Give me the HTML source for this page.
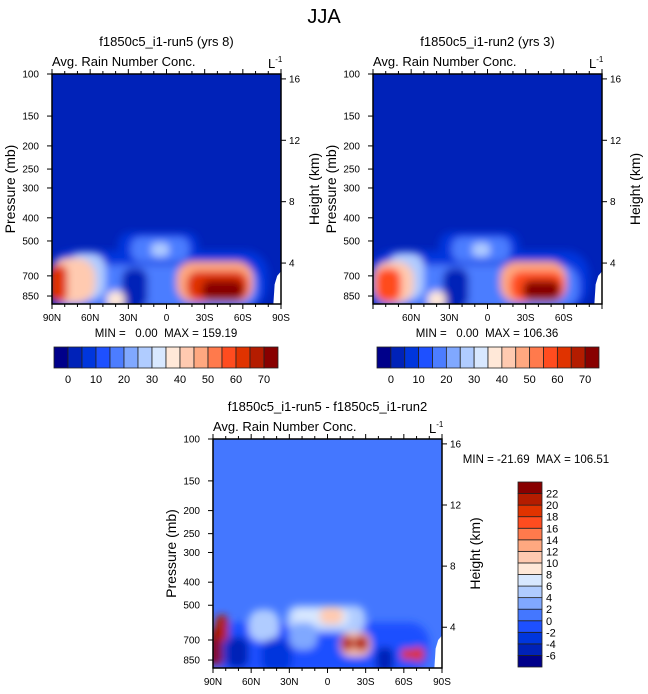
<!DOCTYPE html>
<html><head><meta charset="utf-8">
<style>
html,body{margin:0;padding:0;background:#fff;width:648px;height:694px;overflow:hidden;font-family:"Liberation Sans",sans-serif;}
svg text{font-family:"Liberation Sans",sans-serif;fill:#000;white-space:pre;}
</style></head>
<body>
<svg id="fig" width="648" height="694" viewBox="0 0 648 694" xmlns="http://www.w3.org/2000/svg">
<defs>
<filter id="blur" x="-50%" y="-50%" width="200%" height="200%"><feGaussianBlur stdDeviation="4"/></filter>
</defs>
<text x="324" y="23" font-size="20" text-anchor="middle">JJA</text>
</svg>
<script>
// ---- data ----
const absColors=["#00008a","#0022b8","#0036dd","#1e50ff","#4c7dff","#80a8ff","#b0ccff","#d8e8ff","#ffe8d8","#ffcab0","#ffa880","#ff7a4c","#ff4c1f","#e03300","#b41c00","#880000"];
const absLabels=[0,10,20,30,40,50,60,70];
const diffColors=["#00008a","#0022b8","#0036dd","#1e50ff","#4477ff","#80a8ff","#b0ccff","#d8e8ff","#ffe8d8","#ffcab0","#ffa880","#ff7a4c","#ff4c1f","#e03300","#b41c00","#880000"];
const diffLabels=[-6,-4,-2,0,2,4,6,8,10,12,14,16,18,20,22];
const latTicks=[90,60,30,0,-30,-60,-90];
const latTickLabels=["90N","60N","30N","0","30S","60S","90S"];
const presTicks=[100,150,200,250,300,400,500,700,850];
const heightTicks=[16,12,8,4];
// blobs: lat1, lat2, pTop, pBot, value
const run5Lat1=[92,38,92,28,12,78,35,47,92,92,-8,-16,-28];
const run5Lat2=[-80,-25,-72,-18,-2,48,15,33,56,78,-68,-64,-60];
const run5PTop=[550,460,630,480,510,560,650,810,590,630,610,670,730];
const run5PBot=[960,610,960,610,580,880,960,960,910,900,900,890,890];
const run5Val=[7,7,17,17,27,27,3,35,40,60,45,62,75];
const run2Lat1=[92,38,92,28,12,78,35,47,90,88,-10,-18,-28];
const run2Lat2=[-80,-25,-72,-18,-2,50,15,33,58,68,-62,-60,-57];
const run2PTop=[550,460,630,480,510,560,650,810,610,650,610,670,730];
const run2PBot=[960,610,960,610,580,880,960,960,910,900,900,890,890];
const run2Val=[7,7,17,17,27,27,3,35,42,55,45,58,75];
const diffLat1=[90,32,27,62,30,52,6,92,88,80,-10,-11,-21,-38,-58,-66];
const diffLat2=[-80,-30,-17,38,8,28,-12,82,78,62,-34,-20,-32,-52,-66,-76];
const diffPTop=[590,500,520,520,590,690,510,620,550,680,650,670,670,750,760,750];
const diffPBot=[960,650,610,710,770,960,600,900,710,920,820,780,780,960,850,860];
const diffVal=[-1,5,7,5,3,-3,11,22,20,-6,10,20,20,-6,18,18];

const NS="http://www.w3.org/2000/svg";
const svg=document.getElementById('fig');
function mk(tag,attrs,parent){const e=document.createElementNS(NS,tag);for(const k in attrs)e.setAttribute(k,attrs[k]);(parent||svg).appendChild(e);return e;}
function txt(s,x,y,size,anchor,parent){const t=mk('text',{x:x,y:y,'font-size':size,'text-anchor':anchor||'start'},parent);t.textContent=s;return t;}

function absColor(v){let i=Math.floor(v/5)+1;return absColors[Math.max(0,Math.min(15,i))];}
function diffColor(v){let i=Math.floor((v+6)/2)+1;return diffColors[Math.max(0,Math.min(15,i))];}

function panel(id,x0,x1,y0,y1,bg,lat1,lat2,pt,pb,vals,cfn,title,mm,mmx,mmy,skipEnds){
  const g=mk('g',{});
  
  
  const X=lat=>x0+(90-lat)/180*(x1-x0);
  const lnTop=Math.log(100),lnBot=Math.log(918);
  const Y=p=>y0+(Math.log(p)-lnTop)/(lnBot-lnTop)*(y1-y0);
  const clip=mk('clipPath',{id:'clip-'+id},g);
  mk('rect',{x:x0,y:y0,width:x1-x0,height:y1-y0},clip);
  const field=mk('g',{'clip-path':'url(#clip-'+id+')'},g);
  mk('rect',{x:x0,y:y0,width:x1-x0,height:y1-y0,fill:bg},field);
  const bl=mk('g',{filter:'url(#blur)'},field);
  for(let i=0;i<vals.length;i++){
    const a=X(lat1[i]),b=X(lat2[i]),t=Y(pt[i]),bt=Y(pb[i]);
    const w=Math.abs(b-a),h=bt-t,r=Math.min(w,h)/2.5;
    const e=mk('rect',{x:Math.min(a,b),y:t,width:w,height:h,rx:r,ry:r,fill:cfn(vals[i])},bl);
    
    
  }
  mk('polygon',{points:`${X(-84)},${y1} ${X(-85)},${Y(760)} ${X(-87)},${Y(700)} ${X(-90)},${Y(670)} ${X(-90)},${y1}`,fill:'#fff'},field);
  mk('rect',{x:x0,y:y0,width:x1-x0,height:y1-y0,fill:'none',stroke:'#000','stroke-width':1.5},g);
  for(let l=90;l>=-90;l-=10){const major=l%30===0;
    mk('line',{x1:X(l),x2:X(l),y1:y1,y2:y1+(major?5:3),stroke:'#000'},g);
    mk('line',{x1:X(l),x2:X(l),y1:y0,y2:y0-(major?5:3),stroke:'#000'},g);}
  latTicks.forEach((l,i)=>{ if(skipEnds&&(i==0||i==6))return; txt(latTickLabels[i],X(l),y1+17,10,'middle',g);});
  presTicks.forEach(p=>{mk('line',{x1:x0-5,x2:x0,y1:Y(p),y2:Y(p),stroke:'#000'},g);txt(String(p),x0-13,Y(p)+3.5,10,'end',g);});
  heightTicks.forEach(h=>{const p=1118*Math.exp(-h/6.76);const yy=Y(p);
    mk('line',{x1:x1,x2:x1+5,y1:yy,y2:yy,stroke:'#000'},g);txt(String(h),x1+8,yy+3.5,10,'start',g);});
  const t1=txt('Pressure (mb)',0,0,14,'middle',g);t1.setAttribute('transform',`translate(${x0-37},${(y0+y1)/2}) rotate(-90)`);
  const t2=txt('Height (km)',0,0,14,'middle',g);t2.setAttribute('transform',`translate(${x1+38},${(y0+y1)/2}) rotate(-90)`);
  txt(title,(x0+x1)/2,y0-28,13,'middle',g);
  txt('Avg. Rain Number Conc.',x0,y0-8,13,'start',g);
  const L=txt('L',x1-13,y0-6,13,'start',g);
  const sup=mk('tspan',{dy:-6,'font-size':8},L);sup.textContent='-1';
  txt(mm,mmx,mmy,11.5,'middle',g);
}
panel('plot-run5',52,281,74,304,'#0022b8',run5Lat1,run5Lat2,run5PTop,run5PBot,run5Val,absColor,'f1850c5_i1-run5 (yrs 8)','MIN =   0.00  MAX = 159.19',166,337);
panel('plot-run2',373,602,74,304,'#0022b8',run2Lat1,run2Lat2,run2PTop,run2PBot,run2Val,absColor,'f1850c5_i1-run2 (yrs 3)','MIN =   0.00  MAX = 106.36',487,337,true);
panel('plot-diff',213,442,439,668,'#4477ff',diffLat1,diffLat2,diffPTop,diffPBot,diffVal,diffColor,'f1850c5_i1-run5 - f1850c5_i1-run2','MIN = -21.69  MAX = 106.51',536,463);

function hbar(id,x0,x1,y0,h){
  const g=mk('g',{});
  const w=(x1-x0)/absColors.length;
  absColors.forEach((c,i)=>{const r=mk('rect',{x:x0+i*w,y:y0,width:w,height:h,fill:c,stroke:'#222','stroke-width':0.8},g);
    });
  absLabels.forEach((v,i)=>txt(String(v),x0+(1+2*i)*w,y0+h+15,11,'middle',g));
}
hbar('colorbar-run5',54,278,347,21);
hbar('colorbar-run2',377,599,347,21);
(function(){
  const g=mk('g',{});
  const x0=518,w=24,y0=482,y1=667,n=diffColors.length,h=(y1-y0)/n;
  diffColors.forEach((c,i)=>{const r=mk('rect',{x:x0,y:y1-(i+1)*h,width:w,height:h,fill:c,stroke:'#222','stroke-width':0.8},g);
    });
  diffLabels.forEach((v,i)=>txt(String(v),x0+w+4,y1-(i+1)*h+4,11,'start',g));
})();
</script>
</body></html>
